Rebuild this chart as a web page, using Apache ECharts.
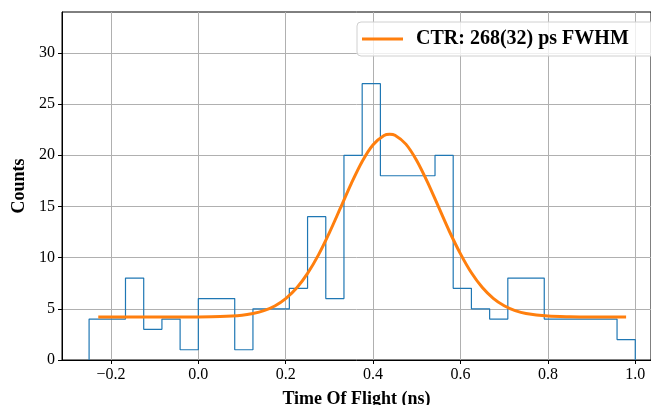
<!DOCTYPE html>
<html lang="en">

<head>
    <meta charset="UTF-8">
    <style>
        html, body {
            margin: 0;
            padding: 0;
            background: #fff;
        }
        #main {
            width: 651px;
            height: 405px;
        }
    </style>
    <title>CTR</title>
</head>

<body>
    <div id="main"></div>
    <script src="https://cdn.jsdelivr.net/npm/echarts@6/dist/echarts.min.js"></script>
    <script>
        // histogram bins (ns) and counts
        var binEdges = [-0.25, -0.2083, -0.1667, -0.125, -0.0833, -0.0417, 0, 0.0417, 0.0833, 0.125,
            0.1667, 0.2083, 0.25, 0.2917, 0.3333, 0.375, 0.4167, 0.4583, 0.5, 0.5417,
            0.5833, 0.625, 0.6667, 0.7083, 0.75, 0.7917, 0.8333, 0.875, 0.9167, 0.9583, 1.0];
        var counts = [4, 4, 8, 3, 4, 1, 6, 6, 1, 5, 5, 7, 14, 6, 20, 27, 18, 18, 18, 20,
            7, 5, 4, 8, 8, 4, 4, 4, 4, 2];

        // gaussian fit curve
        var fitX = [-0.229, 0.0, 0.05, 0.1, 0.125, 0.15, 0.175, 0.2, 0.225, 0.25, 0.275, 0.3, 0.325,
            0.35, 0.375, 0.4, 0.425, 0.438, 0.45, 0.475, 0.5, 0.525, 0.55, 0.575, 0.6, 0.625, 0.65,
            0.675, 0.7, 0.725, 0.75, 0.8, 0.85, 0.9, 0.979];
        var fitY = [4.2, 4.21, 4.24, 4.37, 4.54, 4.82, 5.28, 6.0, 7.03, 8.46, 10.27, 12.44, 14.83,
            17.24, 19.4, 21.03, 21.93, 22.05, 21.95, 21.09, 19.47, 17.33, 14.93, 12.53, 10.37, 8.52, 7.08,
            6.03, 5.3, 4.83, 4.54, 4.29, 4.22, 4.2, 4.2];

        var xTicks = [-0.2, 0.0, 0.2, 0.4, 0.6, 0.8, 1.0];
        var yTicks = [0, 5, 10, 15, 20, 25, 30];
        var fitName = 'CTR: 268(32) ps FWHM';

        // step outline like matplotlib histtype='step'
        var stepData = [[binEdges[0], 0]];
        for (var i = 0; i < counts.length; i++) {
            stepData.push([binEdges[i], counts[i]]);
            stepData.push([binEdges[i + 1], counts[i]]);
        }
        stepData.push([binEdges[binEdges.length - 1], 0]);

        var fitData = fitX.map(function (x, i) {
            return [x, fitY[i]];
        });

        var serif = 'Liberation Serif';
        var gridColor = '#b0b0b0';

        var option = {
            animation: false,
            backgroundColor: '#fff',
            grid: {
                left: 62,
                right: 0,
                top: 12,
                bottom: 45,
                outerBoundsMode: 'none',
                containLabel: false,
                show: true,
                borderColor: '#000',
                borderWidth: 1
            },
            legend: {
                data: [fitName],
                left: 357,
                top: 22,
                padding: [7, 40, 7, 5],
                itemWidth: 41,
                itemHeight: 3,
                itemGap: 14,
                icon: 'rect',
                backgroundColor: 'rgba(255,255,255,0.8)',
                borderColor: '#d0d0d0',
                borderWidth: 1,
                borderRadius: 4,
                textStyle: {
                    fontFamily: serif,
                    fontWeight: 'bold',
                    fontSize: 20,
                    color: '#000',
                    padding: [0, 0, 0, 8]
                }
            },
            xAxis: {
                type: 'value',
                min: -0.312,
                max: 1.036,
                name: 'Time Of Flight (ns)',
                nameLocation: 'middle',
                nameGap: 30,
                nameTextStyle: {
                    fontFamily: serif,
                    fontWeight: 'bold',
                    fontSize: 18,
                    color: '#000'
                },
                axisLine: {
                    onZero: false,
                    lineStyle: { color: '#000', width: 1 }
                },
                axisTick: {
                    customValues: xTicks,
                    length: 4,
                    lineStyle: { color: '#000' }
                },
                axisLabel: {
                    customValues: xTicks,
                    margin: 7,
                    fontFamily: serif,
                    fontSize: 16,
                    color: '#000',
                    formatter: function (v) {
                        return v.toFixed(1).replace('-', '\u2212');
                    }
                },
                splitLine: {
                    show: true,
                    lineStyle: { color: gridColor, width: 1 }
                }
            },
            yAxis: {
                type: 'value',
                min: 0,
                max: 34,
                name: 'Counts',
                nameLocation: 'middle',
                nameGap: 28,
                nameTextStyle: {
                    fontFamily: serif,
                    fontWeight: 'bold',
                    fontSize: 18,
                    color: '#000'
                },
                axisLine: {
                    show: true,
                    onZero: false,
                    lineStyle: { color: '#000', width: 1 }
                },
                axisTick: {
                    show: true,
                    customValues: yTicks,
                    length: 4,
                    lineStyle: { color: '#000' }
                },
                axisLabel: {
                    customValues: yTicks,
                    margin: 7,
                    fontFamily: serif,
                    fontSize: 16,
                    color: '#000'
                },
                splitLine: {
                    show: true,
                    lineStyle: { color: gridColor, width: 1 }
                }
            },
            series: [{
                name: 'hist',
                type: 'line',
                data: stepData,
                showSymbol: false,
                lineStyle: { color: '#1f77b4', width: 1.2 },
                z: 2
            }, {
                name: fitName,
                type: 'line',
                data: fitData,
                smooth: 0.3,
                showSymbol: false,
                color: '#ff7f0e',
                lineStyle: { color: '#ff7f0e', width: 3 },
                z: 3
            }]
        };

        var myChart = echarts.init(document.getElementById('main'));
        myChart.setOption(option);
    </script>
</body>

</html>
